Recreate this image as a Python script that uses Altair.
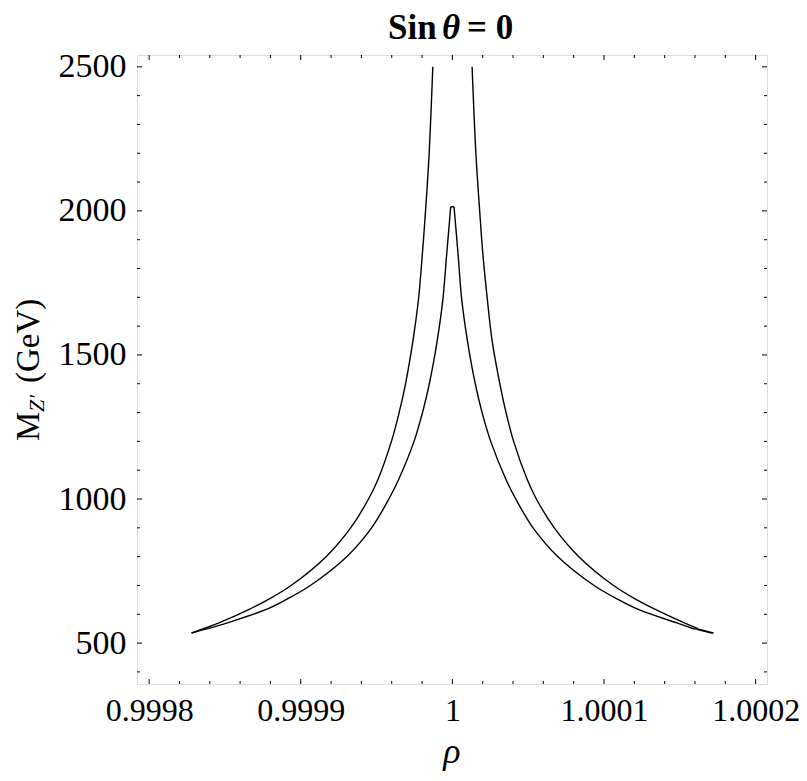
import altair as alt
import pandas as pd

# ---- data ----
# outer branch, left side (from top cut down to the left tip)
outer_left_M = [2500, 2200, 2000, 1850, 1691, 1550, 1400, 1300, 1200, 1066, 1000, 900, 800, 700, 650, 615, 570, 550, 535]
outer_left_rho = [0.9999871, 0.9999847, 0.9999823, 0.9999802, 0.9999776, 0.9999740, 0.9999691, 0.9999649,
                  0.9999598, 0.9999508, 0.9999447, 0.9999329, 0.9999167, 0.9998936, 0.9998781, 0.9998653,
                  0.9998460, 0.9998360, 0.9998280]
# inner branch, left side (from the tip up to the peak)
inner_left_M = [535, 550, 570, 615, 650, 700, 800, 900, 1000, 1066, 1200, 1300, 1400, 1550, 1691, 1853, 2014]
inner_left_rho = [0.9998280, 0.9998387, 0.9998516, 0.9998764, 0.9998900, 0.9999063, 0.9999303, 0.9999467,
                  0.9999581, 0.9999644, 0.9999747, 0.9999803, 0.9999848, 0.9999900, 0.9999937, 0.9999963,
                  0.9999989]
# flat top of the inner peak
peak_M = [2014, 2014]
peak_rho = [0.9999989, 1.0000011]
# inner branch, right side (from the peak down)
inner_right_M = [2014, 1853, 1691, 1550, 1400, 1300, 1200, 1066, 1000, 900, 800, 700, 650, 615, 570, 549]
inner_right_rho = [1.0000011, 1.0000037, 1.0000062, 1.0000099, 1.0000151, 1.0000196, 1.0000253, 1.0000355,
                   1.0000418, 1.0000532, 1.0000696, 1.0000935, 1.0001098, 1.0001234, 1.0001480, 1.0001595]
# closing piece at the right end
right_end_M = [549, 550]
right_end_rho = [1.0001595, 1.0001620]
# outer branch, right side (from the bottom up to the top cut)
outer_right_M = [550, 570, 615, 650, 700, 800, 900, 1000, 1066, 1200, 1300, 1400, 1550, 1691, 1850, 2000, 2200, 2500]
outer_right_rho = [1.0001620, 1.0001530, 1.0001345, 1.0001217, 1.0001063, 1.0000834, 1.0000672, 1.0000554,
                   1.0000495, 1.0000404, 1.0000354, 1.0000313, 1.0000262, 1.0000231, 1.0000201, 1.0000180,
                   1.0000155, 1.0000130]
# small separate contour piece at the right end
loop_M = [549, 536, 533.5, 546.5, 549]
loop_rho = [1.0001625, 1.0001720, 1.0001715, 1.0001618, 1.0001625]

# axes
x_major = [0.9998, 0.9999, 1.0, 1.0001, 1.0002]
x_minor = [0.99982, 0.99984, 0.99986, 0.99988, 0.99992, 0.99994, 0.99996, 0.99998,
           1.00002, 1.00004, 1.00006, 1.00008, 1.00012, 1.00014, 1.00016, 1.00018]
y_major = [500, 1000, 1500, 2000, 2500]
y_minor = [400, 600, 700, 800, 900, 1100, 1200, 1300, 1400, 1600, 1700, 1800, 1900, 2100, 2200, 2300, 2400]
x_domain = [0.999792, 1.0002075]
y_domain = [358, 2541]

title_parts = ["Sin", "θ", "= 0"]
x_title = "ρ"

W, H = 630, 629
FONT = "Liberation Serif"

# ---- build tables ----
branches = [
    ("outer_left", outer_left_M, outer_left_rho),
    ("inner_left", inner_left_M, inner_left_rho),
    ("peak", peak_M, peak_rho),
    ("inner_right", inner_right_M, inner_right_rho),
    ("right_end", right_end_M, right_end_rho),
    ("outer_right", outer_right_M, outer_right_rho),
]
rows = []
for name, Ms, rs in branches:
    for i, (m, r) in enumerate(zip(Ms, rs)):
        rows.append({"rho": r, "M": m, "grp": name, "idx": i})
curve = pd.DataFrame(rows)
loop = pd.DataFrame({"rho": loop_rho, "M": loop_M, "idx": list(range(len(loop_M)))})

xs = alt.Scale(domain=x_domain, nice=False, zero=False)
ys = alt.Scale(domain=y_domain, nice=False, zero=False)

x_axis = alt.Axis(values=x_major, ticks=False, domain=False, grid=False,
                  labelExpr="abs(datum.value - 1) < 1e-9 ? '1' : format(datum.value, '.4f')",
                  labelFont=FONT, labelFontSize=32, labelColor="black", labelPadding=11,
                  labelFlush=False, labelOverlap=False, labelBound=False)
y_axis = alt.Axis(values=y_major, ticks=False, domain=False, grid=False, format="d",
                  labelFont=FONT, labelFontSize=34, labelColor="black", labelPadding=11,
                  labelFlush=False, labelOverlap=False, labelBound=False)

X = lambda: alt.X("rho:Q", scale=xs, title=None, axis=x_axis)
Y = lambda: alt.Y("M:Q", scale=ys, title=None, axis=y_axis)

lines = alt.Chart(curve).mark_line(color="black", strokeWidth=1.4, interpolate="catmull-rom").encode(
    x=X(), y=Y(), detail="grp:N", order="idx:Q")
loop_line = alt.Chart(loop).mark_line(color="black", strokeWidth=1.1).encode(
    x=X(), y=Y(), order="idx:Q")

xmaj = pd.DataFrame({"rho": x_major})
xmin = pd.DataFrame({"rho": x_minor})
ymaj = pd.DataFrame({"M": y_major})
ymin = pd.DataFrame({"M": y_minor})

def xticks(df, ln):
    bot = alt.Chart(df).mark_rule(color="black", strokeWidth=1).encode(
        x=X(), y=alt.value(H), y2=alt.value(H - ln))
    top = alt.Chart(df).mark_rule(color="black", strokeWidth=1).encode(
        x=X(), y=alt.value(0), y2=alt.value(ln))
    return [bot, top]

def yticks(df, ln):
    left = alt.Chart(df).mark_rule(color="black", strokeWidth=1).encode(
        y=Y(), x=alt.value(0), x2=alt.value(ln))
    right = alt.Chart(df).mark_rule(color="black", strokeWidth=1).encode(
        y=Y(), x=alt.value(W), x2=alt.value(W - ln))
    return [left, right]

one = pd.DataFrame({"a": [0]})

def txt(text, x, y, size, angle=0, align="left", style="normal", weight="normal"):
    props = dict(text=text, align=align, baseline="alphabetic", font=FONT, fontSize=size,
                 fontStyle=style, fontWeight=weight, color="black")
    if angle:
        props["angle"] = angle
    return alt.Chart(one).mark_text(**props).encode(x=alt.value(x), y=alt.value(y))

# y-axis title: M_Z' (GeV)
ytitle = [
    txt("M", -98, 386, 33, angle=270),
    txt("Z′", -93, 357, 22, angle=270, style="italic"),
    txt("(GeV)", -98, 328, 33, angle=270),
]
# x-axis title
xtitle = [txt(x_title, 315, 708, 36, align="center", style="italic")]
# plot title: Sin θ = 0
title = [
    txt(title_parts[0], 251, -16, 35, weight="bold"),
    txt(title_parts[1], 305, -16, 35, weight="bold", style="italic"),
    txt(title_parts[2], 330, -16, 35, weight="bold"),
]

layers = ([lines, loop_line] + xticks(xmaj, 5) + xticks(xmin, 3) + yticks(ymaj, 5) + yticks(ymin, 3)
          + ytitle + xtitle + title)

chart = alt.layer(*layers).properties(
    width=W, height=H,
    autosize=alt.AutoSizeParams(type="none"),
    padding={"left": 129, "top": 47, "right": 32, "bottom": 89},
).configure_view(stroke="black", strokeWidth=1.2).configure(background="white")

chart.save("out.html", embed_options={"renderer": "svg", "actions": False})
